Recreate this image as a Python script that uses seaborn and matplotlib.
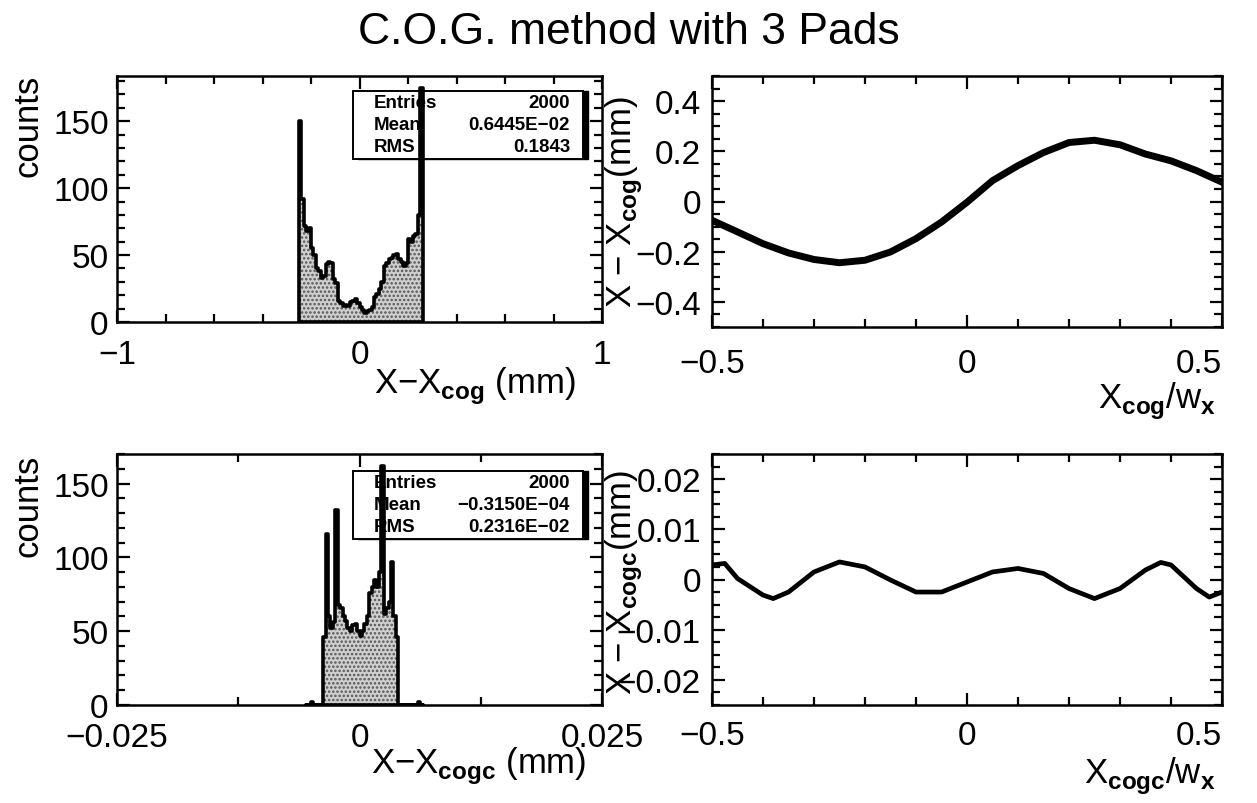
import numpy as np
import pandas as pd
import matplotlib
matplotlib.use("Agg")
import matplotlib.pyplot as plt
import seaborn as sns
from matplotlib.patches import Rectangle
from matplotlib.ticker import FixedLocator, MultipleLocator, FuncFormatter

# ---------------------------------------------------------------- data
# X - X_cog residuals, 0.01 mm bins starting at -0.25 mm
cog_bin_lo = -0.25
cog_bin_width = 0.01
cog_counts = [150, 92, 72, 68, 70, 55, 50, 40, 38, 33,
              34, 43, 45, 44, 32, 29, 16, 14, 12, 13,
              12, 15, 16, 17, 14, 11, 9, 7, 8, 9,
              11, 19, 21, 25, 30, 42, 44, 47, 48, 50,
              51, 47, 45, 42, 44, 62, 60, 64, 66, 80,
              175]

# X - X_cogc residuals after correction, 0.00025 mm bins starting at -0.00375 mm
cogc_bin_lo = -0.00375
cogc_bin_width = 0.00025
cogc_counts = [46, 116, 60, 52, 56, 132, 68, 66, 60, 57,
               52, 50, 54, 55, 50, 47, 50, 55, 60, 76,
               80, 85, 80, 90, 162, 62, 66, 70, 97, 60,
               46]
cogc_stray_x = [-0.004875, 0.006125]
cogc_stray_n = [2, 2]

# residual vs. reconstructed position (in units of pad width)
cog_pos = [-0.5, -0.45, -0.4, -0.35, -0.3, -0.25, -0.2, -0.15, -0.1, -0.05, 0.0,
           0.05, 0.1, 0.15, 0.2, 0.25, 0.3, 0.35, 0.4, 0.45, 0.5]
cog_resid = [-0.075, -0.121, -0.168, -0.205, -0.231, -0.244, -0.234, -0.201, -0.148, -0.082, -0.003,
             0.083, 0.143, 0.195, 0.235, 0.244, 0.226, 0.189, 0.162, 0.123, 0.077]

cogc_pos = [-0.5, -0.475, -0.45, -0.4, -0.38, -0.35, -0.3, -0.25, -0.2, -0.15, -0.1, -0.05, 0.0,
            0.05, 0.1, 0.15, 0.2, 0.25, 0.3, 0.35, 0.38, 0.4, 0.45, 0.475, 0.5]
cogc_resid = [0.0029, 0.0032, 0.0002, -0.0031, -0.0038, -0.0025, 0.0015, 0.0035, 0.0025, -0.0001,
              -0.0025, -0.0025, -0.0005, 0.0015, 0.0022, 0.0012, -0.0018, -0.0038, -0.0018, 0.0019,
              0.0034, 0.0029, -0.0018, -0.0035, -0.0025]

cog_stats = [("Entries", "2000"), ("Mean", "0.6445E\u221202"), ("RMS", "0.1843")]
cogc_stats = [("Entries", "2000"), ("Mean", "\u22120.3150E\u221204"), ("RMS", "0.2316E\u221202")]

# ---------------------------------------------------------------- style
sns.set_style("ticks")
plt.rcParams["font.family"] = ["Liberation Sans", "DejaVu Sans"]
plt.rcParams["mathtext.fontset"] = "custom"
plt.rcParams["mathtext.rm"] = "Liberation Sans"
plt.rcParams["mathtext.bf"] = "Liberation Sans:bold"
plt.rcParams["axes.unicode_minus"] = True
plt.rcParams["hatch.linewidth"] = 1.2
plt.rcParams["text.color"] = "black"
plt.rcParams["axes.labelcolor"] = "black"
plt.rcParams["xtick.color"] = "black"
plt.rcParams["ytick.color"] = "black"

W, H = 1257, 804
fig = plt.figure(figsize=(W / 100, H / 100), dpi=100)
fig.patch.set_facecolor("white")


def fx(px):
    return px / W


def fy(py):
    return 1 - py / H


def add_axes(left, top, right, bottom):
    return fig.add_axes([fx(left), fy(bottom), (right - left) / W, (bottom - top) / H])


def fmt(v, pos):
    if abs(v) < 1e-12:
        return "0"
    s = "%g" % v
    return s.replace("-", "\u2212")


def style_axes(ax, xmajor, xminor, ymajor, yminor, xpad=12, ypad=6):
    for sp in ax.spines.values():
        sp.set_visible(True)
        sp.set_linewidth(1.8)
        sp.set_color("black")
    ax.xaxis.set_major_locator(FixedLocator(xmajor))
    ax.xaxis.set_minor_locator(MultipleLocator(xminor))
    ax.yaxis.set_major_locator(MultipleLocator(ymajor))
    ax.yaxis.set_minor_locator(MultipleLocator(yminor))
    ax.xaxis.set_major_formatter(FuncFormatter(fmt))
    ax.yaxis.set_major_formatter(FuncFormatter(fmt))
    ax.tick_params(which="both", direction="in", top=True, right=True,
                   width=1.6, colors="black", labelcolor="black", labelsize=24)
    ax.tick_params(which="major", length=9)
    ax.tick_params(which="minor", length=5.5)
    ax.tick_params(axis="x", pad=xpad)
    ax.tick_params(axis="y", pad=ypad)
    ax.set_xlabel("")
    ax.set_ylabel("")
    ax.set_facecolor("white")


def stats_box(ax, left, top, right, bottom, rows):
    bw, bh = (right - left) / W, (bottom - top) / H
    shadow = Rectangle((fx(left) + 5 / W, fy(bottom)), bw, bh,
                       transform=fig.transFigure, facecolor="black",
                       edgecolor="black", zorder=0.4, clip_on=False)
    box = Rectangle((fx(left), fy(bottom)), bw, bh, transform=fig.transFigure,
                    facecolor="white", edgecolor="black", linewidth=1.4,
                    zorder=0.5, clip_on=False)
    ax.add_patch(shadow)
    ax.add_patch(box)
    for i, (name, val) in enumerate(rows):
        yy = fy(top + 12 + 22 * i)
        ax.text(fx(left + 21), yy, name, transform=fig.transFigure, ha="left",
                va="center", fontsize=13.5, fontweight="bold", color="black", zorder=3)
        ax.text(fx(right - 13), yy, val, transform=fig.transFigure, ha="right",
                va="center", fontsize=13.5, fontweight="bold", color="black", zorder=3)


def residual_hist(ax, centers, weights, edges):
    df = pd.DataFrame({"x": np.asarray(centers, dtype=float),
                       "n": np.asarray(weights, dtype=float)})
    bins = [float(e) for e in edges]
    sns.histplot(data=df, x="x", weights="n", bins=bins, element="step", fill=True,
                 ax=ax, color="#cfcfcf", alpha=1, edgecolor="#555555", linewidth=0,
                 hatch="....", zorder=1)
    sns.histplot(data=df, x="x", weights="n", bins=bins, element="step", fill=True,
                 ax=ax, color="black", facecolor="none", edgecolor="black",
                 linewidth=2.6, zorder=1.2)


# ---------------------------------------------------------------- top left
ax1 = add_axes(117, 77, 602, 323)
n1 = len(cog_counts)
edges1 = cog_bin_lo + cog_bin_width * np.arange(n1 + 1)
centers1 = edges1[:-1] + cog_bin_width / 2
residual_hist(ax1, centers1, cog_counts, edges1)
ax1.set_xlim(-1, 1)
ax1.set_ylim(0, max(cog_counts) * 1.05)
style_axes(ax1, [-1, 0, 1], 0.2, 50, 10)
stats_box(ax1, 353, 92, 583, 160, cog_stats)

# ---------------------------------------------------------------- bottom left
ax3 = add_axes(117, 455, 602, 706)
n3 = len(cogc_counts)
centers3 = list(cogc_bin_lo + cogc_bin_width * (np.arange(n3) + 0.5)) + cogc_stray_x
weights3 = list(cogc_counts) + cogc_stray_n
edges3 = -0.0055 + cogc_bin_width * np.arange(49)
residual_hist(ax3, centers3, weights3, edges3)
ax3.set_xlim(-0.025, 0.025)
ax3.set_ylim(0, max(cogc_counts) * 1.05)
style_axes(ax3, [-0.025, 0, 0.025], 0.0125, 50, 10)
stats_box(ax3, 353, 472, 583, 540, cogc_stats)

# ---------------------------------------------------------------- top right
ax2 = add_axes(712, 77, 1222, 328)
sns.lineplot(x=cog_pos, y=cog_resid, ax=ax2, color="black", linewidth=5)
ax2.set_xlim(-0.5, 0.5)
ax2.set_ylim(-0.5, 0.5)
style_axes(ax2, [-0.5, 0, 0.5], 0.1, 0.2, 0.05, xpad=15, ypad=8)

# ---------------------------------------------------------------- bottom right
ax4 = add_axes(712, 455, 1222, 706)
sns.lineplot(x=cogc_pos, y=cogc_resid, ax=ax4, color="black", linewidth=3.4)
ax4.set_xlim(-0.5, 0.5)
ax4.set_ylim(-0.025, 0.025)
style_axes(ax4, [-0.5, 0, 0.5], 0.1, 0.01, 0.0025, xpad=11, ypad=8)

for ax in (ax2, ax4):
    labels = ax.get_xticklabels()
    labels[-1].set_horizontalalignment("right")

# ---------------------------------------------------------------- labels
fig.text(0.5, fy(32), "C.O.G. method with 3 Pads", ha="center", va="center",
         fontsize=32, color="black")

lab = dict(fontsize=25, color="black")
fig.text(fx(28), fy(75), "counts", rotation=90, ha="center", va="top", **lab)
fig.text(fx(28), fy(455), "counts", rotation=90, ha="center", va="top", **lab)

fig.text(fx(576), fy(386), "X\u2212X$_{\\mathbf{cog}}$ (mm)", ha="right", va="center", **lab)
fig.text(fx(586), fy(766), "X\u2212X$_{\\mathbf{cogc}}$ (mm)", ha="right", va="center", **lab)

fig.text(fx(1216), fy(401), "X$_{\\mathbf{cog}}$/w$_{\\mathbf{x}}$", ha="right", va="center", **lab)
fig.text(fx(1216), fy(776), "X$_{\\mathbf{cogc}}$/w$_{\\mathbf{x}}$", ha="right", va="center", **lab)

fig.text(fx(624), fy(202), "X \u2212 X$_{\\mathbf{cog}}$(mm)", rotation=90, ha="center",
         va="center", **lab)
fig.text(fx(624), fy(582), "X \u2212 X$_{\\mathbf{cogc}}$(mm)", rotation=90, ha="center",
         va="center", **lab)

fig.savefig("out.png", dpi=100, facecolor="white")
